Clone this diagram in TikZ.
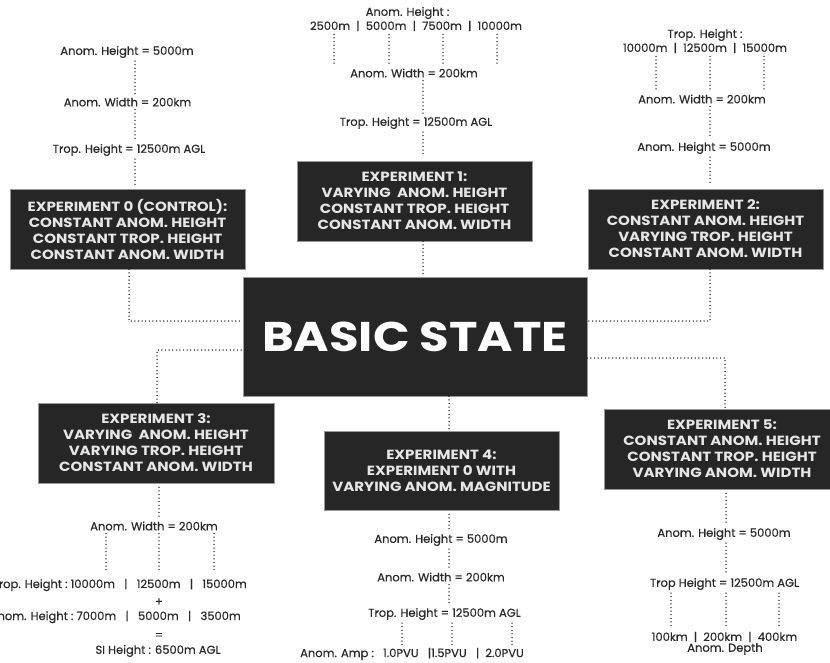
\documentclass[tikz,border=0pt]{standalone}
\usepackage{fontspec}
\setmainfont{Poppins}
\newfontfamily\bsfont{Poppins}[UprightFont=* Bold, FakeStretch=1.16]
\newfontfamily\boxfont{Poppins}[UprightFont=* Bold, FakeStretch=1.13]
\newfontfamily\labfont{Poppins}[FakeBold=0.5]
\definecolor{boxfill}{HTML}{262626}
\definecolor{boxedge}{HTML}{9A9A9A}
\definecolor{boxtext}{HTML}{E6E6E6}
\definecolor{labtext}{HTML}{2A2A2A}
\definecolor{dotcol}{HTML}{222222}
\begin{document}
\begin{tikzpicture}[x=1pt,y=-1pt,
  expbox/.style={fill=boxfill, draw=boxedge, line width=0.6pt, text=boxtext,
    font=\boxfont\fontsize{13.3}{16}\selectfont, align=center, inner sep=0pt,
    minimum width=235pt, minimum height=80pt},
  lab/.style={text=labtext, font=\labfont\fontsize{11.5}{12}\selectfont, inner xsep=0pt, inner ysep=3pt},
  dots/.style={draw=dotcol, line width=1.5pt, line cap=round, dash pattern=on 0pt off 3.6pt}]
\useasboundingbox (0,0) rectangle (830,663);
\clip (0,0) rectangle (830,663);

% ---------- boxes ----------
\node[expbox, minimum width=344pt, minimum height=119pt, text=white,
  font=\bsfont\fontsize{41.5}{44}\selectfont] (bs) at (415,336.5) {BASIC STATE};
\node[expbox] (e0) at (127.5,229) {EXPERIMENT 0 (CONTROL):\\CONSTANT ANOM. HEIGHT\\CONSTANT TROP. HEIGHT\\CONSTANT ANOM. WIDTH};
\node[expbox] (e1) at (414.5,201) {EXPERIMENT 1:\\VARYING\ \ ANOM. HEIGHT\\CONSTANT TROP. HEIGHT\\CONSTANT ANOM. WIDTH};
\node[expbox] (e2) at (705.5,229) {EXPERIMENT 2:\\CONSTANT ANOM. HEIGHT\\VARYING TROP. HEIGHT\\CONSTANT ANOM. WIDTH};
\node[expbox, minimum width=236pt] (e3) at (156,443) {EXPERIMENT 3:\\VARYING\ \ ANOM. HEIGHT\\VARYING TROP. HEIGHT\\CONSTANT ANOM. WIDTH};
\node[expbox, minimum height=79pt] (e4) at (441.5,470.5) {EXPERIMENT 4:\\EXPERIMENT 0 WITH\\VARYING ANOM. MAGNITUDE};
\node[expbox, minimum width=236pt] (e5) at (722,449) {EXPERIMENT 5:\\CONSTANT ANOM. HEIGHT\\CONSTANT TROP. HEIGHT\\VARYING ANOM. WIDTH};

% ---------- column / corner coordinates ----------
\coordinate (k0) at (135,0);
\coordinate (k1) at (423,0);
\coordinate (k1a) at (334,0);
\coordinate (k1b) at (389,0);
\coordinate (k1c) at (443,0);
\coordinate (k1d) at (497,0);
\coordinate (k2) at (710,0);
\coordinate (k2a) at (656,0);
\coordinate (k2c) at (764,0);
\coordinate (k3) at (159,0);
\coordinate (k3a) at (106,0);
\coordinate (k3c) at (214,0);
\coordinate (k4) at (449,0);
\coordinate (k4a) at (402,0);
\coordinate (k4b) at (452,0);
\coordinate (k4c) at (512,0);
\coordinate (k5) at (726,0);
\coordinate (k5a) at (671,0);
\coordinate (k5c) at (779,0);
\coordinate (j0) at (129,321);
\coordinate (j2) at (710,321);
\coordinate (j3) at (157,350);
\coordinate (j5) at (725,358);

% ---------- labels: experiment 0 ----------
\node[lab] (l0a) at (127,52) {Anom. Height = 5000m};
\node[lab] (l0b) at (127.5,102) {Anom. Width = 200km};
\node[lab] (l0c) at (129,150) {Trop. Height = 12500m AGL};
% ---------- labels: experiment 1 ----------
\node[lab, inner ysep=1pt] (l1a) at (407.5,13) {Anom. Height :};
\node[lab] (l1b) at (416,26) {2500m\ \ |\ \ 5000m\ \ |\ \ 7500m\ \ |\ \ 10000m};
\node[lab] (l1c) at (414,73) {Anom. Width = 200km};
\node[lab] (l1d) at (416,123) {Trop. Height = 12500m AGL};
% ---------- labels: experiment 2 ----------
\node[lab, inner ysep=1pt] (l2a) at (705,35) {Trop. Height :};
\node[lab] (l2b) at (705,48) {10000m\ \ |\ \ 12500m\ \ |\ \ 15000m};
\node[lab] (l2c) at (702,99) {Anom. Width = 200km};
\node[lab] (l2d) at (704,148) {Anom. Height = 5000m};
% ---------- labels: experiment 3 ----------
\node[lab] (l3a) at (154,526) {Anom. Width = 200km};
\node[lab, anchor=east] (l3b) at (247,585) {Trop. Height :\ 10000m\ \ \ |\ \ \ 12500m\ \ \ |\ \ \ 15000m};
\node[lab, inner ysep=0pt] (l3c) at (159,602) {+};
\node[lab, anchor=east] (l3d) at (241,617) {Anom. Height :\ 7000m\ \ \ |\ \ \ 5000m\ \ \ |\ \ \ 3500m};
\node[lab, inner ysep=0pt] (l3e) at (159,636) {=};
\node[lab] (l3f) at (158,651) {SI Height : 6500m AGL};
% ---------- labels: experiment 4 ----------
\node[lab] (l4a) at (441,540) {Anom. Height = 5000m};
\node[lab] (l4b) at (441,577) {Anom. Width = 200km};
\node[lab] (l4c) at (444.5,614) {Trop. Height = 12500m AGL};
\node[lab] (l4d) at (412,654) {Anom. Amp :\ \ \ 1.0PVU\ \ \ |1.5PVU\ \ \ |\ \ 2.0PVU};
% ---------- labels: experiment 5 ----------
\node[lab] (l5a) at (724,534) {Anom. Height = 5000m};
\node[lab] (l5b) at (724.5,584) {Trop Height = 12500m AGL};
\node[lab] (l5c) at (724.5,637) {100km\ \ |\ \ 200km\ \ |\ \ 400km};
\node[lab, inner ysep=1pt] (l5d) at (725,649) {Anom. Depth};

% ---------- connectors to basic state ----------
\draw[dots] (e0.south -| j0) -- (j0) -- (bs.west |- j0);
\draw[dots] (e1.south -| k1) -- (bs.north -| k1);
\draw[dots] (e2.south -| j2) -- (j2) -- (bs.east |- j2);
\draw[dots] (e3.north -| j3) -- (j3) -- (bs.west |- j3);
\draw[dots] (bs.south -| k4) -- (e4.north -| k4);
\draw[dots] (bs.east |- j5) -- (j5) -- (e5.north -| j5);

% ---------- dotted chains: experiment 0 ----------
\draw[dots] (l0a.south -| k0) -- (l0b.north -| k0);
\draw[dots] (l0b.south -| k0) -- (l0c.north -| k0);
\draw[dots, shorten >=4pt] (l0c.south -| k0) -- (e0.north -| k0);
% ---------- experiment 1 ----------
\foreach \c in {k1a,k1b,k1c,k1d} \draw[dots] (l1b.south -| \c) -- (l1c.north -| \c);
\draw[dots] (l1c.south -| k1) -- (l1d.north -| k1);
\draw[dots, shorten >=4pt] (l1d.south -| k1) -- (e1.north -| k1);
% ---------- experiment 2 ----------
\foreach \c in {k2a,k2,k2c} \draw[dots] (l2b.south -| \c) -- (l2c.north -| \c);
\draw[dots] (l2c.south -| k2) -- (l2d.north -| k2);
\draw[dots, shorten >=4pt] (l2d.south -| k2) -- (e2.north -| k2);
% ---------- experiment 3 ----------
\draw[dots, shorten <=4pt] (e3.south -| k3) -- (l3a.north -| k3);
\foreach \c in {k3a,k3,k3c} \draw[dots, shorten >=6pt] (l3a.south -| \c) -- (l3b.north -| \c);
% ---------- experiment 4 ----------
\draw[dots, shorten <=4pt] (e4.south -| k4) -- (l4a.north -| k4);
\draw[dots] (l4a.south -| k4) -- (l4b.north -| k4);
\draw[dots] (l4b.south -| k4) -- (l4c.north -| k4);
\foreach \c in {k4a,k4b,k4c} \draw[dots] (l4c.south -| \c) -- (l4d.north -| \c);
% ---------- experiment 5 ----------
\draw[dots, shorten <=4pt] (e5.south -| k5) -- (l5a.north -| k5);
\draw[dots] (l5a.south -| k5) -- (l5b.north -| k5);
\foreach \c in {k5a,k5,k5c} \draw[dots] (l5b.south -| \c) -- (l5c.north -| \c);
\end{tikzpicture}
\end{document}
